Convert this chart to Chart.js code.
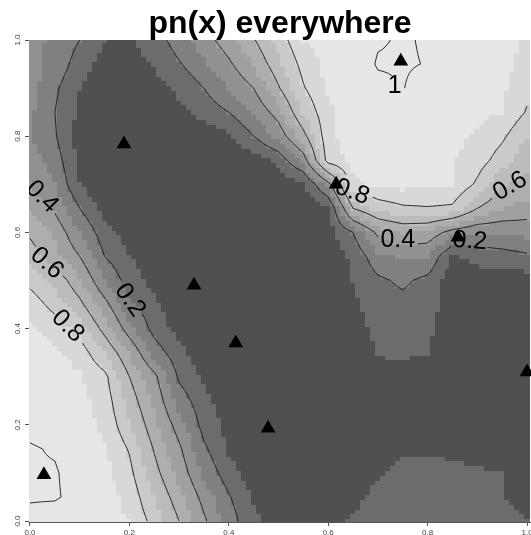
<!DOCTYPE html>
<html>
<head>
<meta charset="utf-8">
<title>pn(x) everywhere</title>
<script src="https://cdn.jsdelivr.net/npm/chart.js@4.4.1/dist/chart.umd.min.js"></script>
<style>
  body { margin: 0; background: #fff; }
  canvas { display: block; }
</style>
</head>
<body>
<canvas id="Plot" width="531" height="535"></canvas>
<script>
// grid, x left->right, rows from y = 1 (top) down to y = 0
var xGrid = [0, 0.05, 0.1, 0.15, 0.2, 0.25, 0.3, 0.35, 0.4, 0.45, 0.5, 0.55, 0.6, 0.65, 0.7, 0.75, 0.8, 0.85, 0.9, 0.95, 1]
var yGrid = [1, 0.95, 0.9, 0.85, 0.8, 0.75, 0.7, 0.65, 0.6, 0.55, 0.5, 0.45, 0.4, 0.35, 0.3, 0.25, 0.2, 0.15, 0.1, 0.05, 0]
var zRows = [
    [0.33, 0.28, 0.20, 0.10, 0.08, 0.15, 0.25, 0.35, 0.46, 0.59, 0.74, 0.90, 0.94, 0.96, 0.99, 1.00, 0.99, 0.97, 0.95, 0.93, 0.89],
    [0.34, 0.27, 0.15, 0.06, 0.05, 0.11, 0.19, 0.28, 0.38, 0.51, 0.67, 0.84, 0.93, 0.96, 1.00, 1.00, 0.993, 0.96, 0.94, 0.93, 0.87],
    [0.34, 0.22, 0.10, 0.04, 0.03, 0.05, 0.12, 0.20, 0.30, 0.40, 0.59, 0.79, 0.91, 0.95, 0.98, 0.997, 0.97, 0.95, 0.93, 0.92, 0.83],
    [0.32, 0.20, 0.08, 0.03, 0.02, 0.03, 0.07, 0.14, 0.20, 0.31, 0.45, 0.71, 0.88, 0.93, 0.95, 0.96, 0.95, 0.94, 0.92, 0.90, 0.79],
    [0.30, 0.21, 0.06, 0.02, 0.01, 0.01, 0.02, 0.04, 0.08, 0.20, 0.33, 0.56, 0.88, 0.93, 0.94, 0.94, 0.94, 0.93, 0.89, 0.82, 0.70],
    [0.36, 0.25, 0.08, 0.02, 0.01, 0.01, 0.01, 0.02, 0.03, 0.05, 0.13, 0.33, 0.86, 0.92, 0.94, 0.94, 0.93, 0.91, 0.85, 0.75, 0.64],
    [0.40, 0.30, 0.10, 0.02, 0.01, 0.01, 0.01, 0.01, 0.01, 0.02, 0.03, 0.06, 0.35, 0.88, 0.92, 0.93, 0.92, 0.90, 0.78, 0.62, 0.56],
    [0.48, 0.38, 0.20, 0.07, 0.03, 0.01, 0.01, 0.01, 0.01, 0.01, 0.02, 0.03, 0.06, 0.60, 0.73, 0.78, 0.79, 0.78, 0.60, 0.50, 0.46],
    [0.58, 0.48, 0.30, 0.14, 0.06, 0.02, 0.01, 0.01, 0.01, 0.01, 0.01, 0.02, 0.05, 0.20, 0.43, 0.50, 0.48, 0.35, 0.30, 0.31, 0.33],
    [0.66, 0.53, 0.40, 0.20, 0.11, 0.04, 0.01, 0.01, 0.01, 0.01, 0.01, 0.01, 0.03, 0.12, 0.27, 0.31, 0.30, 0.08, 0.13, 0.15, 0.18],
    [0.77, 0.68, 0.52, 0.30, 0.15, 0.07, 0.02, 0.01, 0.01, 0.01, 0.01, 0.01, 0.02, 0.10, 0.18, 0.22, 0.17, 0.05, 0.05, 0.05, 0.05],
    [0.86, 0.76, 0.63, 0.44, 0.23, 0.12, 0.04, 0.02, 0.01, 0.01, 0.01, 0.01, 0.02, 0.08, 0.15, 0.17, 0.14, 0.05, 0.03, 0.03, 0.03],
    [0.92, 0.86, 0.76, 0.56, 0.34, 0.16, 0.07, 0.02, 0.01, 0.01, 0.01, 0.01, 0.01, 0.05, 0.13, 0.15, 0.12, 0.04, 0.02, 0.02, 0.02],
    [0.95, 0.92, 0.86, 0.70, 0.50, 0.26, 0.13, 0.05, 0.02, 0.01, 0.01, 0.01, 0.01, 0.01, 0.11, 0.12, 0.10, 0.03, 0.02, 0.02, 0.02],
    [0.97, 0.95, 0.91, 0.83, 0.60, 0.43, 0.18, 0.09, 0.03, 0.01, 0.01, 0.01, 0.01, 0.02, 0.05, 0.05, 0.05, 0.02, 0.02, 0.02, 0.02],
    [0.97, 0.96, 0.93, 0.86, 0.66, 0.48, 0.26, 0.13, 0.05, 0.02, 0.01, 0.01, 0.01, 0.02, 0.02, 0.02, 0.02, 0.02, 0.02, 0.02, 0.02],
    [0.98, 0.97, 0.94, 0.88, 0.72, 0.53, 0.35, 0.16, 0.07, 0.02, 0.01, 0.01, 0.01, 0.02, 0.03, 0.03, 0.03, 0.03, 0.03, 0.03, 0.03],
    [1.00, 0.99, 0.96, 0.91, 0.79, 0.59, 0.42, 0.22, 0.09, 0.03, 0.02, 0.02, 0.03, 0.05, 0.07, 0.09, 0.09, 0.08, 0.07, 0.06, 0.05],
    [1.00, 1.00, 0.97, 0.93, 0.83, 0.64, 0.47, 0.28, 0.14, 0.05, 0.02, 0.02, 0.03, 0.06, 0.09, 0.12, 0.13, 0.12, 0.11, 0.10, 0.09],
    [1.00, 1.00, 0.98, 0.95, 0.87, 0.70, 0.54, 0.36, 0.21, 0.09, 0.03, 0.02, 0.04, 0.08, 0.12, 0.14, 0.14, 0.13, 0.12, 0.10, 0.09],
    [0.98, 0.97, 0.96, 0.94, 0.90, 0.76, 0.60, 0.42, 0.25, 0.12, 0.05, 0.03, 0.06, 0.11, 0.14, 0.15, 0.15, 0.14, 0.13, 0.12, 0.10]
]

var designX = [0.028, 0.189, 0.330, 0.414, 0.479, 0.616, 0.746, 0.861, 1.000]
var designY = [0.096, 0.784, 0.490, 0.370, 0.193, 0.700, 0.956, 0.590, 0.310]

var fillBreaks = [0.1, 0.2, 0.3, 0.4, 0.5, 0.6, 0.7, 0.8, 0.9]
var fillGrays = ['#505050', '#6c6c6c', '#808080', '#919191', '#a0a0a0', '#aeaeae', '#bcbcbc', '#cacaca', '#d8d8d8', '#e6e6e6']
var lineLevels = [0.2, 0.4, 0.6, 0.8, 1]

var labelLevel = [0.4, 0.6, 0.8, 0.2, 0.8, 0.4, 0.2, 0.6, 1]
var labelX = [0.024, 0.034, 0.076, 0.201, 0.648, 0.740, 0.885, 0.966, 0.734]
var labelY = [0.674, 0.536, 0.405, 0.459, 0.684, 0.584, 0.582, 0.696, 0.904]
var labelAngle = [45, 42, 45, 55, 20, 0, 4, -30, 0]

var tickValues = [0, 0.2, 0.4, 0.6, 0.8, 1]
var tickLabels = ['0.0', '0.2', '0.4', '0.6', '0.8', '1.0']

var FINE = 100

function locate(grid, v) {
    for (var k = 0; k < grid.length - 1; k++) {
        var a = grid[k], b = grid[k + 1]
        if (v >= Math.min(a, b) && v <= Math.max(a, b)) {
            return { k: k, t: (v - a) / (b - a) }
        }
    }
    return { k: 0, t: 0 }
}

function sample(x, y) {
    var cx = locate(xGrid, x)
    var cy = locate(yGrid, y)
    var r0 = zRows[cy.k], r1 = zRows[cy.k + 1]
    var a = r0[cx.k] * (1 - cx.t) + r0[cx.k + 1] * cx.t
    var b = r1[cx.k] * (1 - cx.t) + r1[cx.k + 1] * cx.t
    return a * (1 - cy.t) + b * cy.t
}

function bandColor(v) {
    var k = 0
    while (k < fillBreaks.length && v >= fillBreaks[k]) k++
    return fillGrays[k]
}

function labelText(lev) {
    return lev >= 1 ? '1' : lev.toFixed(1)
}

function traceLevel(field, lev) {
    var segs = []
    for (var j = 0; j < FINE; j++) {
        for (var i = 0; i < FINE; i++) {
            var c = [[i, j], [i + 1, j], [i + 1, j + 1], [i, j + 1]]
            var pts = []
            for (var e = 0; e < 4; e++) {
                var p = c[e], q = c[(e + 1) % 4]
                var a = field[p[1]][p[0]], b = field[q[1]][q[0]]
                if ((a >= lev) !== (b >= lev)) {
                    var t = (lev - a) / (b - a)
                    pts.push([(p[0] + (q[0] - p[0]) * t) / FINE, (p[1] + (q[1] - p[1]) * t) / FINE])
                }
            }
            if (pts.length >= 2) segs.push([pts[0], pts[1]])
            if (pts.length === 4) segs.push([pts[2], pts[3]])
        }
    }
    return segs
}

var contourPlugin = {
    id: 'contourField',
    beforeDatasetsDraw: function (chart) {
        var ctx = chart.ctx
        var xs = chart.scales.x, ys = chart.scales.y
        var area = chart.chartArea

        var field = []
        for (var j = 0; j <= FINE; j++) {
            var row = []
            for (var i = 0; i <= FINE; i++) row.push(sample(i / FINE, j / FINE))
            field.push(row)
        }

        ctx.save()
        ctx.beginPath()
        ctx.rect(area.left, area.top, area.right - area.left, area.bottom - area.top)
        ctx.clip()

        // image cells
        var h = 0.5 / FINE
        for (var j = 0; j <= FINE; j++) {
            var y0 = Math.floor(ys.getPixelForValue(j / FINE + h))
            var y1 = Math.ceil(ys.getPixelForValue(j / FINE - h))
            for (var i = 0; i <= FINE; i++) {
                var x0 = Math.floor(xs.getPixelForValue(i / FINE - h))
                var x1 = Math.ceil(xs.getPixelForValue(i / FINE + h))
                ctx.fillStyle = bandColor(field[j][i])
                ctx.fillRect(x0, y0, x1 - x0, y1 - y0)
            }
        }

        // label spots, lines are broken under them
        ctx.font = '25px "Liberation Sans", Arial, sans-serif'
        var spots = []
        for (var k = 0; k < labelLevel.length; k++) {
            spots.push({
                lev: labelLevel[k],
                px: xs.getPixelForValue(labelX[k]),
                py: ys.getPixelForValue(labelY[k]),
                r: ctx.measureText(labelText(labelLevel[k])).width / 2 + 3
            })
        }

        ctx.strokeStyle = '#1a1a1a'
        ctx.lineWidth = 0.9
        for (var m = 0; m < lineLevels.length; m++) {
            var lev = lineLevels[m]
            var segs = traceLevel(field, lev >= 1 ? 0.995 : lev)
            ctx.beginPath()
            for (var s = 0; s < segs.length; s++) {
                var ax = xs.getPixelForValue(segs[s][0][0]), ay = ys.getPixelForValue(segs[s][0][1])
                var bx = xs.getPixelForValue(segs[s][1][0]), by = ys.getPixelForValue(segs[s][1][1])
                var mx = (ax + bx) / 2, my = (ay + by) / 2
                var hidden = false
                for (var k = 0; k < spots.length; k++) {
                    if (spots[k].lev === lev && Math.hypot(mx - spots[k].px, my - spots[k].py) < spots[k].r) hidden = true
                }
                if (hidden) continue
                ctx.moveTo(ax, ay)
                ctx.lineTo(bx, by)
            }
            ctx.stroke()
        }

        ctx.fillStyle = '#000'
        ctx.textAlign = 'center'
        ctx.textBaseline = 'middle'
        for (var k = 0; k < spots.length; k++) {
            ctx.save()
            ctx.translate(spots[k].px, spots[k].py)
            ctx.rotate(labelAngle[k] * Math.PI / 180)
            ctx.fillText(labelText(spots[k].lev), 0, 0)
            ctx.restore()
        }
        ctx.restore()
    }
}

window.onload = () => {
    var points = []
    for (var i = 0; i < designX.length; i++) points.push({ x: designX[i], y: designY[i] })

    var tickFont = { family: '"Liberation Sans", Arial, sans-serif', size: 8 }

    var ctx = document.getElementById('Plot').getContext('2d')
    var myChart = new Chart(ctx, {
        type: 'scatter',
        data: {
            datasets: [{
                data: points,
                pointStyle: 'triangle',
                pointRadius: 8.5,
                pointHoverRadius: 8.5,
                backgroundColor: '#000',
                borderColor: '#000',
                borderWidth: 0
            }]
        },
        options: {
            responsive: false,
            animation: false,
            devicePixelRatio: 1,
            layout: { padding: 0, autoPadding: false },
            plugins: {
                legend: { display: false },
                tooltip: { enabled: false },
                title: {
                    display: true,
                    fullSize: false,
                    text: 'pn(x) everywhere',
                    color: '#000',
                    font: { family: '"Liberation Sans", Arial, sans-serif', size: 32, weight: 'bold', lineHeight: 0.9 },
                    padding: { top: 10, bottom: 1.2 }
                }
            },
            scales: {
                x: {
                    type: 'linear',
                    min: -0.002,
                    max: 1.008,
                    afterBuildTicks: s => { s.ticks = tickValues.map(v => ({ value: v })) },
                    afterFit: s => { s.height = 13; s.paddingLeft = 0; s.paddingRight = 0 },
                    grid: { drawOnChartArea: false, drawTicks: true, tickLength: 4, color: '#555' },
                    border: { display: true, color: '#555' },
                    ticks: {
                        autoSkip: false,
                        maxRotation: 0,
                        padding: 2,
                        color: '#444',
                        font: tickFont,
                        callback: (v, i) => tickLabels[i]
                    }
                },
                y: {
                    type: 'linear',
                    min: -0.002,
                    max: 1,
                    afterBuildTicks: s => { s.ticks = tickValues.map(v => ({ value: v })) },
                    afterFit: s => { s.width = 29; s.paddingTop = 0; s.paddingBottom = 0 },
                    grid: { drawOnChartArea: false, drawTicks: true, tickLength: 4, color: '#555' },
                    border: { display: true, color: '#555' },
                    ticks: {
                        autoSkip: false,
                        minRotation: 90,
                        maxRotation: 90,
                        crossAlign: 'center',
                        padding: 2,
                        color: '#444',
                        font: tickFont,
                        callback: (v, i) => tickLabels[i]
                    }
                }
            }
        },
        plugins: [contourPlugin]
    })
}
</script>
</body>
</html>
